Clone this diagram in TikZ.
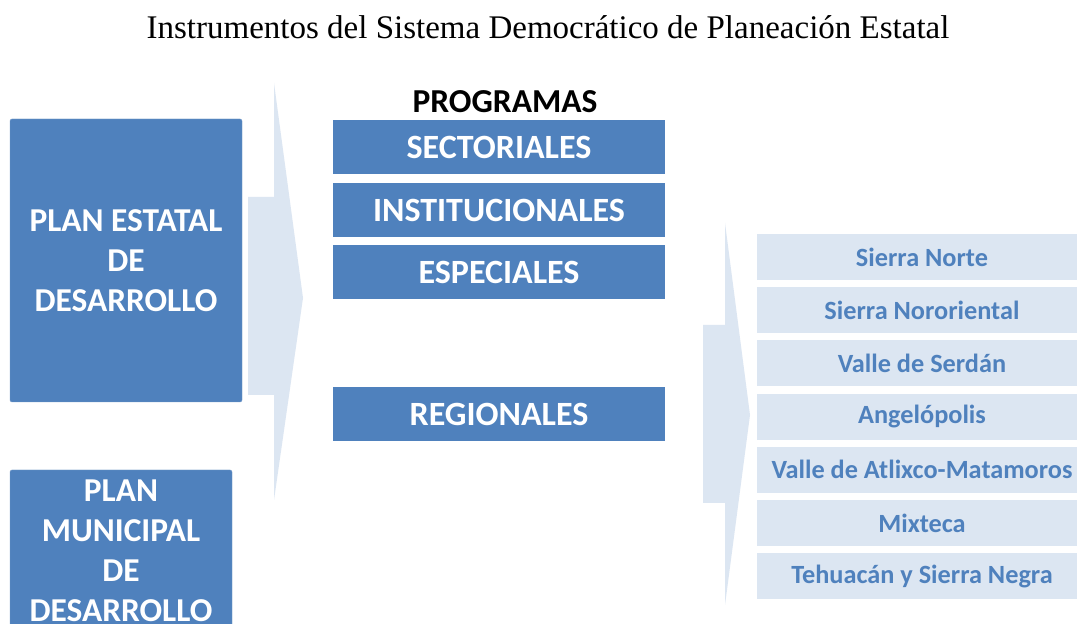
\documentclass[tikz,border=0pt]{standalone}
\usepackage{fontspec}
\setmainfont{Liberation Serif}
\newfontfamily\boxfont{Carlito}
\definecolor{planblue}{HTML}{4F81BD}
\definecolor{paleblue}{HTML}{DCE6F2}

\begin{document}
\begin{tikzpicture}[x=1pt,y=1pt,
  bluebox/.style={fill=planblue,draw=planblue!80!white,rounded corners=2pt,
    text=white,align=center,font=\boxfont\bfseries\fontsize{33.4}{40}\selectfont,inner sep=0pt},
  progbox/.style={fill=planblue,text=white,minimum width=332,minimum height=54,
    inner sep=0pt,font=\boxfont\bfseries\fontsize{34}{38}\selectfont},
  regbox/.style={fill=paleblue,text=planblue,minimum width=330,minimum height=46,
    inner sep=0pt,font=\boxfont\bfseries\fontsize{26.3}{30}\selectfont}]
\clip (0,0) rectangle (1077,624);
\fill [white] (0,0) rectangle (1077,624);

\node (title) at (548,597) {\fontsize{33}{38}\selectfont Instrumentos del Sistema Democr\'atico de Planeaci\'on Estatal};

% big arrows
\fill [paleblue] (248,427) -- (274,427) -- (274,541) -- (303,326) -- (274,124) -- (274,229) -- (248,229) -- cycle;
\fill [paleblue] (703,299) -- (725,299) -- (725,401) -- (750,209) -- (725,19) -- (725,121) -- (703,121) -- cycle;

% plans
\node [bluebox,minimum width=232,minimum height=283] (estatal) at (126,363.5) {PLAN ESTATAL\\DE\\DESARROLLO};
\node [bluebox,minimum width=222,minimum height=162] (municipal) at (121,73) {PLAN\\MUNICIPAL\\DE\\DESARROLLO};

% programas
\node [font=\boxfont\bfseries\fontsize{33.5}{38}\selectfont] (programas) at (505,522) {PROGRAMAS};
\node [progbox] (sectoriales) at (499,477) {SECTORIALES};
\node [progbox] (institucionales) at (499,413.5) {INSTITUCIONALES};
\node [progbox] (especiales) at (499,351.5) {ESPECIALES};
\node [progbox] (regionales) at (499,210) {REGIONALES};

% regiones
\node [regbox] (norte) at (922,367) {Sierra Norte};
\node [regbox] (nororiental) at (922,313.8) {Sierra Nororiental};
\node [regbox] (serdan) at (922,260.6) {Valle de Serd\'an};
\node [regbox] (angelopolis) at (922,207.4) {Angel\'opolis};
\node [regbox] (atlixco) at (922,154.2) {Valle de Atlixco-Matamoros};
\node [regbox] (mixteca) at (922,101) {Mixteca};
\node [regbox] (tehuacan) at (922,47.8) {Tehuac\'an y Sierra Negra};
\end{tikzpicture}
\end{document}
